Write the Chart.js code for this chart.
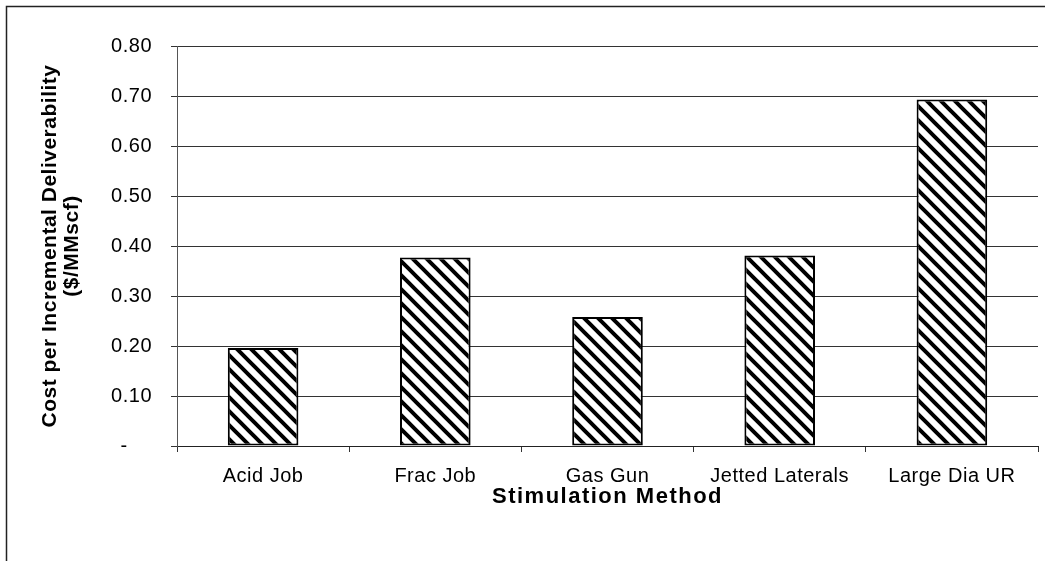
<!DOCTYPE html>
<html>
<head>
<meta charset="utf-8">
<script src="https://cdn.jsdelivr.net/npm/chart.js@4.4.1/dist/chart.umd.min.js"></script>
<style>
  html, body { margin: 0; padding: 0; background: #fff; }
  canvas { display: block; }
</style>
</head>
<body>
<canvas id="chart" width="1045" height="561"></canvas>
<script>
// Stimulation methods and their cost per unit of incremental deliverability ($/MMscf)
const categories = ['Acid Job', 'Frac Job', 'Gas Gun', 'Jetted Laterals', 'Large Dia UR'];
const costPerDeliverability = [0.196, 0.377, 0.258, 0.381, 0.693];
const yTickLabels = ['-', '0.10', '0.20', '0.30', '0.40', '0.50', '0.60', '0.70', '0.80'];
const yTitleLines = ['Cost per Incremental Deliverability', '($/MMscf)'];
const xTitleText = 'Stimulation Method';

const FONT = "'Liberation Sans', Arial, Helvetica, sans-serif";

// Diagonal (downward) hatch fill used for the bars
function makeHatch() {
  const p = 14;
  const tile = document.createElement('canvas');
  tile.width = p; tile.height = p;
  const g = tile.getContext('2d');
  g.fillStyle = '#fff';
  g.fillRect(0, 0, p, p);
  g.strokeStyle = '#000';
  g.lineWidth = 4;
  g.beginPath();
  for (const o of [-p, 0, p]) {
    g.moveTo(o - 2, -2);
    g.lineTo(o + p + 2, p + 2);
  }
  g.stroke();
  return g.createPattern(tile, 'repeat');
}

// Text tracking: slightly loose for all labels, a bit wider for the category-axis title
const trackingPlugin = {
  id: 'tracking',
  beforeDraw(chart) {
    chart.ctx.letterSpacing = '0.5px';
    const xs = chart.scales.x;
    if (xs && !xs._wideTitle) {
      const baseDrawTitle = xs.drawTitle;
      xs.drawTitle = function () {
        const ctx = this.ctx;
        const prev = ctx.letterSpacing;
        ctx.letterSpacing = '1.5px';
        baseDrawTitle.call(this);
        ctx.letterSpacing = prev;
      };
      xs._wideTitle = true;
    }
  }
};

// Thin frame around the whole chart (left and top edges visible)
const framePlugin = {
  id: 'frame',
  afterDraw(chart) {
    const ctx = chart.ctx;
    ctx.save();
    ctx.strokeStyle = '#222';
    ctx.lineWidth = 1.5;
    ctx.strokeRect(6.5, 6.5, 3000, 3000);
    ctx.restore();
  }
};

Chart.defaults.font.family = FONT;
Chart.defaults.color = '#000';

new Chart(document.getElementById('chart'), {
  type: 'bar',
  data: {
    labels: categories,
    datasets: [{
      data: costPerDeliverability,
      backgroundColor: makeHatch(),
      borderColor: '#000',
      borderWidth: 2,
      borderSkipped: false,
      barPercentage: 0.41,
      categoryPercentage: 1.0
    }]
  },
  options: {
    responsive: false,
    animation: false,
    devicePixelRatio: 1,
    layout: { padding: { top: 46, right: 7, bottom: 0, left: 0 } },
    plugins: {
      legend: { display: false },
      tooltip: { enabled: false }
    },
    scales: {
      x: {
        offset: true,
        grid: {
          display: true,
          drawOnChartArea: false,
          drawTicks: true,
          tickLength: 6,
          color: '#333',
          offset: true
        },
        border: { display: true, color: '#222', width: 1 },
        ticks: {
          font: { size: 20 },
          padding: 12,
          maxRotation: 0,
          autoSkip: false
        },
        title: {
          display: true,
          text: xTitleText,
          font: { size: 22, weight: 'bold', lineHeight: 1.1 },
          padding: { top: 0, bottom: 52 }
        },
        afterFit(scale) { scale.height = 115; }
      },
      y: {
        min: 0,
        max: 0.8,
        grid: {
          color: '#333',
          lineWidth: 1,
          drawTicks: true,
          tickLength: 6
        },
        border: { display: true, color: '#555', width: 1 },
        ticks: {
          stepSize: 0.1,
          font: { size: 20 },
          padding: 19,
          callback(value, index) {
            const label = yTickLabels[index] ?? '';
            return label === '-' ? label + '    ' : label;
          }
        },
        title: {
          display: true,
          text: yTitleLines,
          font: { size: 21, weight: 'bold', lineHeight: 1.05 },
          padding: { top: 39, bottom: 0 }
        },
        afterFit(scale) { scale.width = 177; }
      }
    }
  },
  plugins: [trackingPlugin, framePlugin]
});
</script>
</body>
</html>
